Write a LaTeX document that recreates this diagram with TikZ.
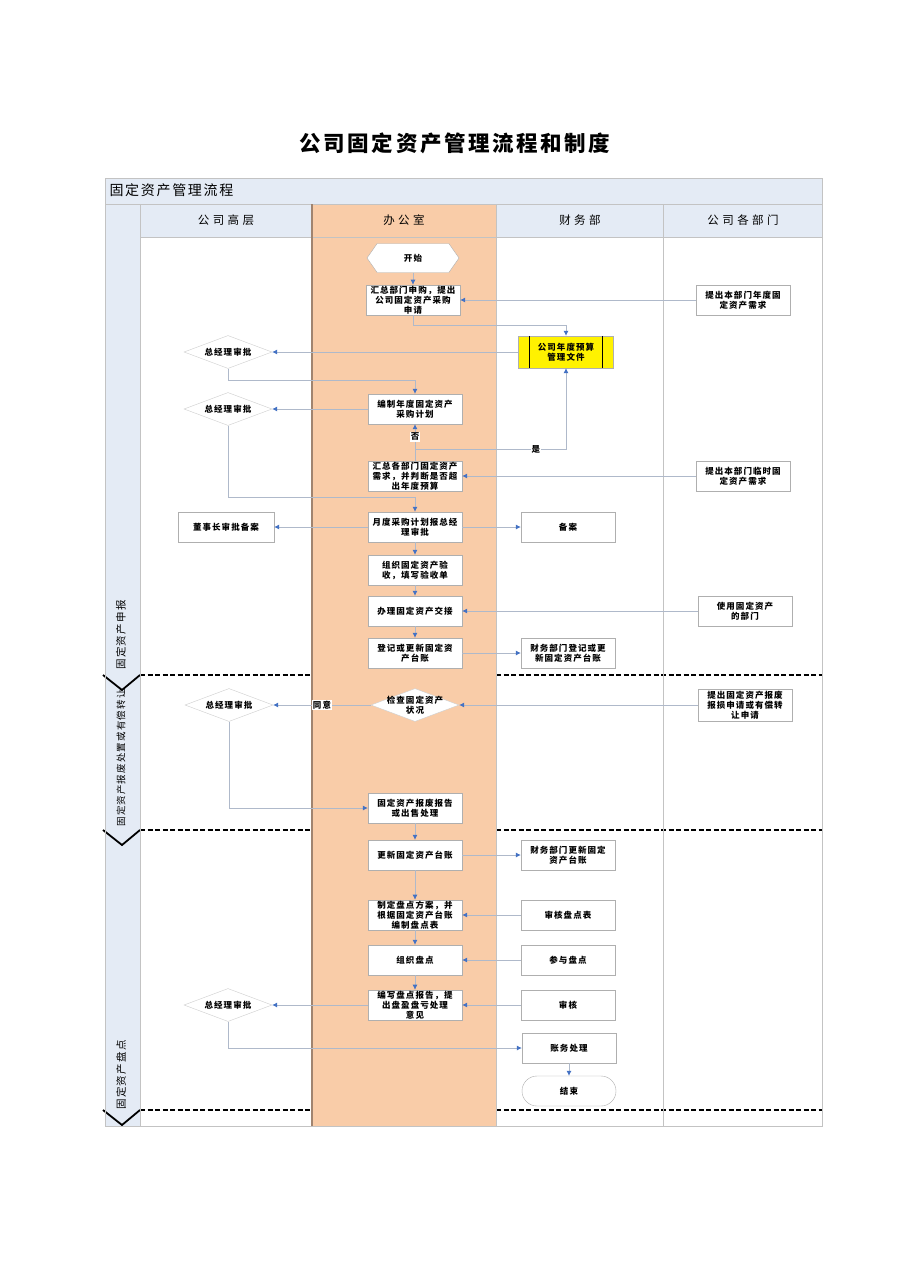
\documentclass[tikz,border=0pt]{standalone}
\usepackage{fontspec}
\setmainfont{Noto Sans CJK SC}[LetterSpace=12]
\newfontfamily\hdrfont{Noto Sans CJK SC}[LetterSpace=30]
\usetikzlibrary{shapes.geometric,shapes.symbols,arrows.meta}
\definecolor{hdrblue}{RGB}{228,235,245}
\definecolor{laneorg}{RGB}{249,204,168}
\definecolor{framec}{RGB}{195,195,195}
\definecolor{laneedge}{RGB}{160,132,112}
\definecolor{arrblue}{RGB}{68,114,196}
\definecolor{conncol}{RGB}{175,185,202}
\definecolor{boxline}{RGB}{175,175,175}
\definecolor{decline}{RGB}{205,205,205}
\definecolor{ybar}{RGB}{200,190,0}
\newcommand\boxfont{\fontsize{8.5}{10}\selectfont\bfseries}
\tikzset{
  proc/.style={draw=boxline, fill=white, minimum width=94, minimum height=30, inner sep=1, align=center, font=\boxfont},
  dec/.style={diamond, draw=decline, fill=white, minimum width=88, minimum height=33, aspect=2.7, inner sep=0, align=center, font=\boxfont},
  termshape/.style={signal, signal to=west and east, signal pointer angle=110, draw=boxline, fill=white, minimum width=92, minimum height=29, inner sep=0, font=\boxfont},
  conn/.style={draw=conncol, line width=0.7, -{Latex[length=5,width=5,color=arrblue]}},
  connline/.style={draw=conncol, line width=0.7},
  lbl/.style={fill=white, inner sep=1, font=\boxfont},
  sepline/.style={line width=2.2, dash pattern=on 5 off 2.5},
  chev/.style={line width=1.8, black},
  lanehdr/.style={font=\fontsize{11.5}{12}\selectfont\hdrfont},
  phase/.style={rotate=90, font=\fontsize{10.5}{11}\selectfont},
}
\begin{document}
\begin{tikzpicture}[x=1pt,y=-1pt]
\useasboundingbox (0,0) rectangle (909,1286);
\fill[white] (0,0) rectangle (909,1286);
% backgrounds
\fill[hdrblue] (105,178) rectangle (822,204);
\fill[hdrblue] (105,204) rectangle (140,1126);
\fill[hdrblue] (140,204) rectangle (822,237);
\fill[laneorg] (312,204) rectangle (496,1126);
% phase separators
\foreach \yy in {675,830,1110} {
  \draw[sepline] (140,\yy) -- (312,\yy);
  \draw[sepline] (496,\yy) -- (822,\yy);
  \draw[chev] (103,\yy) -- (122,\yy+15) -- (140,\yy);
}
% frame
\draw[framec] (105,178) rectangle (822,1126);
\draw[framec] (105,204) -- (822,204);
\draw[framec] (140,237) -- (822,237);
\draw[framec] (140,204) -- (140,1126);
\draw[laneedge, line width=1.2] (312,204) -- (312,1126);
\draw[framec] (496,204) -- (496,1126);
\draw[framec] (663,204) -- (663,1126);
% title and headers
\node[font=\fontsize{21.5}{22}\selectfont\bfseries] (title) at (455,143) {公司固定资产管理流程和制度};
\node[anchor=west, font=\fontsize{14}{14}\selectfont] (hdr) at (106,190) {固定资产管理流程};
\node[lanehdr] (h1) at (226,220) {公司高层};
\node[lanehdr] (h2) at (404,220) {办公室};
\node[lanehdr] (h3) at (580,220) {财务部};
\node[lanehdr] (h4) at (743,220) {公司各部门};
\node[phase] (p1) at (121,635) {固定资产申报};
\node[phase, font=\fontsize{9.5}{10}\selectfont] (p2) at (121,758) {固定资产报废处置或有偿转让};
\node[phase] (p3) at (121,1075) {固定资产盘点};
% section 1 nodes
\node[termshape] (start) at (413,258) {开始};
\node[proc] (b1) at (413,300) {汇总部门申购，提出\\公司固定资产采购\\申请};
\node[proc] (r1) at (743,300) {提出本部门年度固\\定资产需求};
\node[proc, fill=yellow, minimum width=95, minimum height=32] (yb) at (566,352) {公司年度预算\\管理文件};
\draw[ybar, line width=1.2] ([xshift=11]yb.north west) -- ([xshift=11]yb.south west);
\draw[ybar, line width=1.2] ([xshift=-11]yb.north east) -- ([xshift=-11]yb.south east);
\node[dec] (g1) at (228,352) {总经理审批};
\node[proc] (b2) at (415,409) {编制年度固定资产\\采购计划};
\node[dec] (g2) at (228,409) {总经理审批};
\node[proc] (b3) at (415,476) {汇总各部门固定资产\\需求，并判断是否超\\出年度预算};
\node[proc] (r2) at (743,476) {提出本部门临时固\\定资产需求};
\node[proc] (b4) at (415,527) {月度采购计划报总经\\理审批};
\node[proc, minimum width=96] (l1) at (226,527) {董事长审批备案};
\node[proc] (f1) at (568,527) {备案};
\node[proc] (b5) at (415,570) {组织固定资产验\\收，填写验收单};
\node[proc] (b6) at (415,611) {办理固定资产交接};
\node[proc] (r3) at (745,611) {使用固定资产\\的部门};
\node[proc] (b7) at (415,653) {登记或更新固定资\\产台账};
\node[proc] (f2) at (568,653) {财务部门登记或更\\新固定资产台账};
% section 2 nodes
\node[proc, minimum height=32] (r4) at (745,705) {提出固定资产报废\\报损申请或有偿转\\让申请};
\node[dec] (g0) at (415,705) {};
\node[font=\boxfont, align=center] (g0t) at (415,705) {检查固定资产\\状况};
\node[dec] (g3) at (229,705) {总经理审批};
\node[proc] (b8) at (415,808) {固定资产报废报告\\或出售处理};
% section 3 nodes
\node[proc] (b9) at (415,855) {更新固定资产台账};
\node[proc] (f3) at (568,855) {财务部门更新固定\\资产台账};
\node[proc] (b10) at (415,915) {制定盘点方案，并\\根据固定资产台账\\编制盘点表};
\node[proc] (f4) at (568,915) {审核盘点表};
\node[proc] (b11) at (415,960) {组织盘点};
\node[proc] (f5) at (568,960) {参与盘点};
\node[proc] (b12) at (415,1005) {编写盘点报告，提\\出盘盈盘亏处理\\意见};
\node[proc] (f6) at (568,1005) {审核};
\node[dec] (g4) at (228,1005) {总经理审批};
\node[proc] (f7) at (569,1048) {账务处理};
\node[proc, rounded corners=15] (fin) at (569,1091) {结束};
% connectors section 1
\draw[conn] (start.south) -- (b1.north);
\draw[conn] (r1.west) -- (b1.east);
\draw[conn] (b1.south) -- ++(0,10) -| (yb.north);
\draw[conn] (yb.west) -- (g1.east);
\draw[conn] (g1.south) -- ++(0,12) -| (b2.north);
\draw[conn] (b2.west) -- (g2.east);
\path (b3.north) ++(0,-11) coordinate (j1);
\draw[connline] (b3.north) -- (j1);
\draw[conn] (j1) -- (b2.south) node[midway, lbl] (no1) {否};
\draw[conn] (j1) -| (yb.south) node[pos=0.4, lbl] (yes1) {是};
\draw[conn] (r2.west) -- (b3.east);
\draw[conn] (g2.south) -- ++(0,72) -| (b4.north);
\draw[conn] (b4.west) -- (l1.east);
\draw[conn] (b4.east) -- (f1.west);
\draw[conn] (b4.south) -- (b5.north);
\draw[conn] (b5.south) -- (b6.north);
\draw[conn] (r3.west) -- (b6.east);
\draw[conn] (b6.south) -- (b7.north);
\draw[conn] (b7.east) -- (f2.west);
% connectors section 2
\draw[conn] (r4.west) -- (g0.east);
\draw[conn] (g0.west) -- (g3.east) node[midway, lbl] (agree) {同意};
\draw[conn] (g3.south) |- (b8.west);
\draw[conn] (b8.south) -- (b9.north);
% connectors section 3
\draw[conn] (b9.east) -- (f3.west);
\draw[conn] (b9.south) -- (b10.north);
\draw[conn] (f4.west) -- (b10.east);
\draw[conn] (b10.south) -- (b11.north);
\draw[conn] (f5.west) -- (b11.east);
\draw[conn] (b11.south) -- (b12.north);
\draw[conn] (f6.west) -- (b12.east);
\draw[conn] (b12.west) -- (g4.east);
\draw[conn] (g4.south) |- (f7.west);
\draw[conn] (f7.south) -- (fin.north);
\end{tikzpicture}
\end{document}
